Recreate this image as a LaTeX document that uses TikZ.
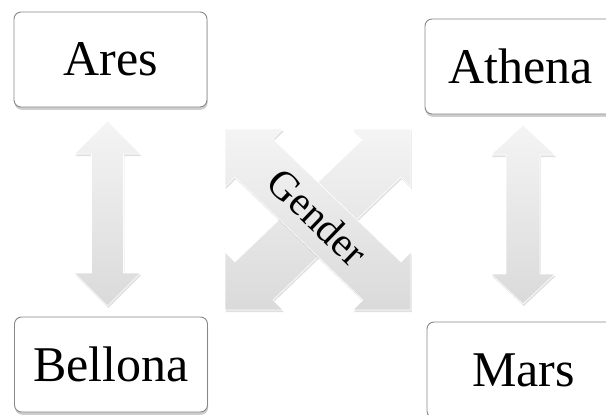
\documentclass[tikz,border=0pt]{standalone}
\usepackage{fontspec}
\setmainfont{Liberation Serif}
\usetikzlibrary{calc,shadows}
\definecolor{boxline}{RGB}{135,135,135}
\definecolor{arrtop}{RGB}{244,244,244}
\definecolor{arrbot}{RGB}{218,218,218}
\tikzset{
  godbox/.style={draw=boxline, line width=0.9pt, fill=white, rounded corners=7pt,
    inner sep=0pt, font=\fontsize{50}{60}\selectfont,
    drop shadow={shadow xshift=0.6pt, shadow yshift=-2.8pt, opacity=0.35, fill=black!55}},
  arrowfill/.style={top color=arrtop, bottom color=arrbot, draw=white, line width=0.6pt,
    drop shadow={shadow xshift=0.8pt, shadow yshift=-2pt, opacity=0.12, fill=black}},
  gendertext/.style={font=\fontsize{41}{48}\selectfont, inner sep=0pt}
}
\begin{document}
\begin{tikzpicture}[x=1pt,y=-1pt]
\useasboundingbox (0,0) rectangle (606,415);
% boxes
\node[godbox, minimum width=193pt, minimum height=95pt] (ares) at (110.5,59.5) {Ares};
\node[godbox, minimum width=191pt, minimum height=95pt] (athena) at (520.5,66.5) {Athena};
\node[godbox, minimum width=193pt, minimum height=95pt] (bellona) at (111,364.5) {Bellona};
\node[godbox, minimum width=193pt, minimum height=96pt] (mars) at (523.5,370) {Mars};
% vertical double arrows
\coordinate (lt) at (107.5,121);
\coordinate (lb) at (107.5,306);
\coordinate (rt) at (523,125);
\coordinate (rb) at (523,304);
\path[arrowfill] (lt) -- ($(lt)+(33,33)$) -- ($(lt)+(16,33)$) -- ($(lb)+(16,-33)$) -- ($(lb)+(33,-33)$)
  -- (lb) -- ($(lb)+(-33,-33)$) -- ($(lb)+(-16,-33)$) -- ($(lt)+(-16,33)$) -- ($(lt)+(-33,33)$) -- cycle;
\path[arrowfill] (rt) -- ($(rt)+(32,30)$) -- ($(rt)+(17,30)$) -- ($(rb)+(17,-30)$) -- ($(rb)+(32,-30)$)
  -- (rb) -- ($(rb)+(-32,-30)$) -- ($(rb)+(-17,-30)$) -- ($(rt)+(-17,30)$) -- ($(rt)+(-32,30)$) -- cycle;
% crossing arrows
\coordinate (c1) at (225,129);
\coordinate (c2) at (411,129);
\coordinate (c3) at (411,310);
\coordinate (c4) at (225,310);
\path[arrowfill] (c2) -- ($(c2)+(0,58)$) -- ($(c2)+(-10,48)$) -- ($(c4)+(48,-10)$) -- ($(c4)+(58,0)$)
  -- (c4) -- ($(c4)+(0,-58)$) -- ($(c4)+(10,-48)$) -- ($(c2)+(-48,10)$) -- ($(c2)+(-58,0)$) -- cycle;
\path[arrowfill] (c1) -- ($(c1)+(58,0)$) -- ($(c1)+(48,10)$) -- ($(c3)+(-10,-48)$) -- ($(c3)+(0,-58)$)
  -- (c3) -- ($(c3)+(-58,0)$) -- ($(c3)+(-48,-10)$) -- ($(c1)+(10,48)$) -- ($(c1)+(0,58)$) -- cycle;
\node[gendertext, rotate=-44] (gender) at (318,217) {Gender};
\end{tikzpicture}
\end{document}
